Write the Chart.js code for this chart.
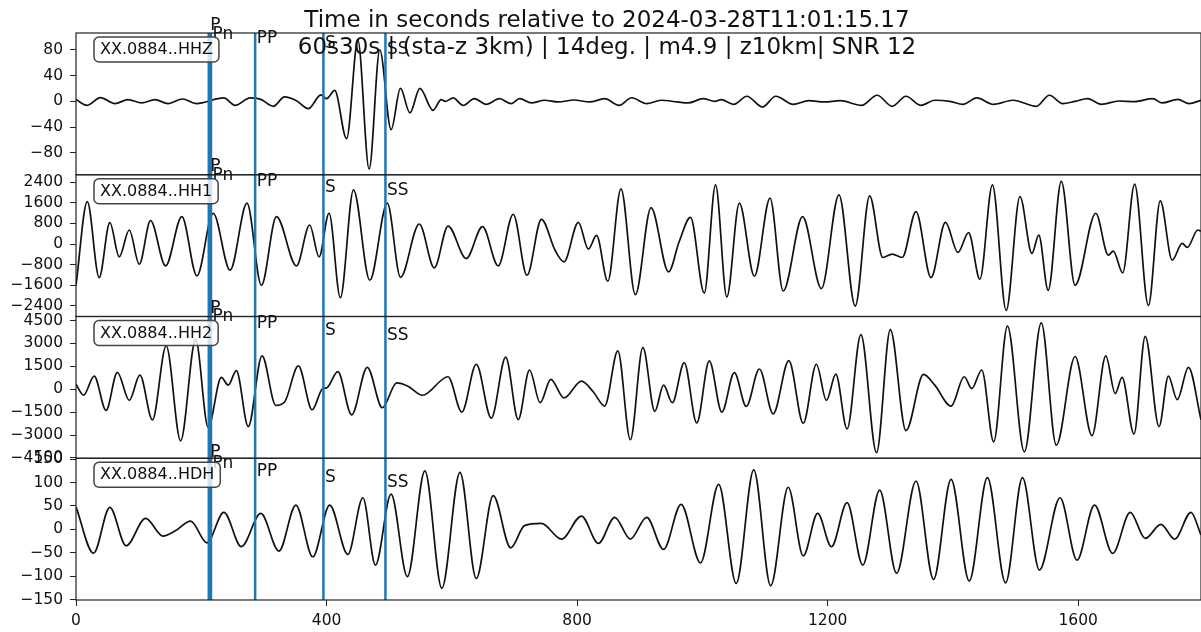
<!DOCTYPE html>
<html><head><meta charset="utf-8">
<script src="https://cdn.jsdelivr.net/npm/chart.js@4"></script>
<style>html,body{margin:0;padding:0;background:#fff;overflow:hidden}canvas{display:block}</style>
</head><body>
<canvas id="c" width="1201" height="632"></canvas>
<script>
// ---------- data ----------
const titleLine1 = 'Time in seconds relative to 2024-03-28T11:01:15.17';
const titleLine2 = '60s30s | (sta-z 3km) | 14deg. | m4.9 | z10km| SNR 12';
const stations = ['XX.0884..HHZ', 'XX.0884..HH1', 'XX.0884..HH2', 'XX.0884..HDH'];
const phaseNames = ['P', 'Pn', 'PP', 'S', 'SS'];
const phaseTimes = [212, 215.5, 286, 395, 494];
const xTicks = [0, 400, 800, 1200, 1600];

const hhzTime = [0,18,39,62,83,105,126,147,170,192,236,254,278,295,315,333,352,371,391,400,413,432,450,468,485,503,518,533,549,570,583,590,602,618,636,655,676,695,708,727,748,770,795,820,844,867,887,911,934,960,977,1001,1020,1030,1050,1071,1096,1117,1145,1170,1195,1220,1254,1279,1303,1325,1349,1371,1395,1416,1438,1465,1496,1533,1554,1575,1595,1615,1637,1665,1690,1719,1734,1759,1777,1796];
const hhzAmp  = [2.6,-6.3,5.8,-3.6,2.6,-2.6,2.6,-3.6,3.6,-3.6,5.2,-6.3,5.2,3,-7.8,6.8,1,-11.5,10,4,17,-58,95,-105,80,-44,20,-18,20,-14,2.6,0,5.2,-6.3,4,-4.7,4,-3.6,4,-2.6,1.6,-1,2,-1,4,-6.3,5.5,-3.6,1.6,-1,-2.6,4,0,2.6,-4.7,7.8,-8.9,7.8,-4.7,1,-1,1,-6.3,9.4,-7.8,7.8,-6.3,1.6,0,-4.7,5.2,-4.7,1.6,-7.8,9.4,-3.6,0,4,-4.7,0.5,-0.5,4,-2.6,3,-3.6,1.6];

const hh1Time = [0,18,37,54,69,85,101,119,143,169,193,219,246,273,296,320,352,373,388,404,422,443,469,497,518,548,572,594,623,649,674,698,720,743,765,779,802,818,831,849,870,893,918,946,963,981,1003,1021,1039,1059,1083,1108,1129,1160,1190,1218,1244,1267,1288,1303,1319,1341,1365,1388,1408,1425,1443,1463,1485,1507,1526,1537,1552,1573,1595,1628,1648,1656,1671,1690,1712,1731,1750,1766,1774,1791,1796];
const hh1Amp  = [-1600,1650,-1300,830,-495,546,-780,910,-846,1066,-1235,1197,-1014,1587,-1600,1066,-846,741,-495,1197,-2080,2106,-1404,1587,-1290,780,-920,700,-560,676,-845,1157,-1210,962,-250,-690,845,-195,338,-1443,2145,-1963,1417,-1079,100,1040,-1898,2300,-2054,1586,-1248,1781,-1820,1066,-1729,1911,-2405,1872,-520,-390,-520,1261,-1300,845,-325,442,-1365,2300,-2574,1846,-364,351,-1794,2431,-1599,1196,-429,-273,-1118,2327,-2379,1677,-624,27,-130,546,500];

const hh2Time = [0,12,29,48,66,85,102,122,144,167,191,211,232,243,256,275,297,319,333,355,377,394,400,418,440,465,489,512,530,553,594,616,639,663,686,706,724,741,758,779,807,826,844,865,885,905,924,938,952,971,991,1011,1031,1051,1070,1091,1113,1138,1161,1182,1198,1213,1231,1253,1278,1300,1325,1353,1371,1397,1418,1430,1446,1465,1487,1514,1541,1565,1595,1622,1644,1659,1670,1689,1707,1729,1744,1758,1776,1796];
const hh2Amp  = [331,-397,860,-1390,1104,-728,927,-2008,2846,-3376,3244,-2495,772,265,1213,-2449,2185,-1059,-838,1523,-1346,44,80,1147,-1677,1434,-1213,420,200,-397,817,-1500,1633,-1898,2097,-1986,1258,-883,640,-574,530,-180,-1104,2516,-3310,2736,-1456,265,-883,1743,-2207,1854,-1500,1081,-1125,1324,-1611,1876,-2229,1633,-728,993,-2604,3575,-4150,3906,-2714,973,265,-1104,817,44,1258,-3442,4126,-4105,4347,-3663,2141,-3045,2185,-287,772,-2935,3464,-2449,861,-684,1435,-2000];

const hdhTime = [0,28,54,80,111,139,158,183,209,236,264,295,324,351,378,405,434,458,478,503,529,557,584,613,639,666,694,716,743,775,807,834,860,885,911,938,966,997,1026,1054,1082,1109,1137,1161,1184,1206,1231,1256,1283,1310,1341,1369,1397,1426,1455,1484,1511,1538,1571,1598,1626,1655,1683,1707,1732,1754,1780,1796];
const hdhAmp  = [48,-51,47,-35,23.5,-14.3,-3.6,17.8,-28.7,36.4,-37,34,-46.4,52,-58.6,52,-53.5,67.6,-76.4,75.5,-101,124.8,-126,122,-105,72,-39.4,8,12.8,-20.8,28.5,-30,25.7,-20.8,25.7,-42.8,53.5,-71.5,96.3,-115.6,127,-120.7,90,-56.5,34.2,-37.2,57,-76.4,84,-94,103.4,-107,107,-110.6,110.4,-114.3,110.4,-87,67.6,-65.7,52,-51.4,36.4,-19.3,10.7,-20.8,36.4,-12];

const hhzTicks = [-80, -40, 0, 40, 80];
const hh1Ticks = [-2400, -1600, -800, 0, 800, 1600, 2400];
const hh2Ticks = [-4500, -3000, -1500, 0, 1500, 3000, 4500];
const hdhTicks = [-150, -100, -50, 0, 50, 100, 150];

// ---------- layout / style ----------
const FONT = 'DejaVu Sans';
const labelDy = [[-7,2,6,11,17],[-8,1,7,13,16],[-8,0,7,14,19],[-6,5,13,19,24]];

function pts(t, a) { return t.map((x, i) => ({x: x, y: a[i]})); }
function minus(v) { return String(v).replace('-', '\u2212'); }

function yAxis(min, max, ticks) {
  return {
    type: 'linear', position: 'left', stack: 'panels', stackWeight: 1,
    min: min, max: max,
    afterBuildTicks: s => { s.ticks = ticks.map(v => ({value: v})); },
    afterFit: s => { s.width = 76; },
    grid: {drawOnChartArea: false, drawTicks: true, tickLength: 6, color: '#222', lineWidth: 1},
    border: {display: false},
    ticks: {autoSkip: false, padding: 7, color: '#111', font: {family: FONT, size: 15.5},
      callback: v => minus(v)}
  };
}

function ds(t, a, axis) {
  return {data: pts(t, a), yAxisID: axis, borderColor: '#111', borderWidth: 1.7,
    pointRadius: 0, fill: false, cubicInterpolationMode: 'monotone'};
}

const panelIds = ['yHHZ', 'yHH1', 'yHH2', 'yHDH'];

const overlay = {
  id: 'overlay',
  afterDatasetsDraw(chart) {
    const ctx = chart.ctx, xs = chart.scales.x, area = chart.chartArea;
    const panels = panelIds.map(id => chart.scales[id]);
    ctx.save();
    // phase lines
    ctx.strokeStyle = '#1f77b4'; ctx.lineWidth = 2.5;
    phaseTimes.forEach(t => {
      const px = xs.getPixelForValue(t);
      ctx.beginPath(); ctx.moveTo(px, area.top); ctx.lineTo(px, area.bottom); ctx.stroke();
    });
    // frames
    ctx.strokeStyle = '#222'; ctx.lineWidth = 1.2;
    panels.forEach(p => { ctx.strokeRect(area.left, p.top, area.right - area.left, p.bottom - p.top); });
    // phase labels
    ctx.fillStyle = '#111'; ctx.font = '17px "' + FONT + '"';
    ctx.textAlign = 'left'; ctx.textBaseline = 'middle';
    panels.forEach((p, k) => {
      phaseNames.forEach((n, i) => {
        ctx.fillText(n, xs.getPixelForValue(phaseTimes[i]) + 1.5, p.top + labelDy[k][i]);
      });
    });
    // station boxes
    ctx.font = '16px "' + FONT + '"';
    panels.forEach((p, k) => {
      const w = ctx.measureText(stations[k]).width + 12;
      const x0 = 94, y0 = p.top + 4, h = 25;
      ctx.beginPath();
      ctx.roundRect(x0, y0, w, h, 5);
      ctx.fillStyle = 'rgba(255,255,255,0.8)'; ctx.fill();
      ctx.strokeStyle = '#444'; ctx.lineWidth = 1.5; ctx.stroke();
      ctx.fillStyle = '#111';
      ctx.fillText(stations[k], x0 + 6, y0 + h / 2 + 0.5);
    });
    // title
    ctx.textAlign = 'center'; ctx.textBaseline = 'alphabetic';
    ctx.font = '23px "' + FONT + '"';
    ctx.fillText(titleLine1, 607, 26.5);
    ctx.fillText(titleLine2, 607, 53.5);
    ctx.restore();
  }
};

new Chart(document.getElementById('c'), {
  type: 'line',
  data: {datasets: [
    ds(hhzTime, hhzAmp, 'yHHZ'),
    ds(hh1Time, hh1Amp, 'yHH1'),
    ds(hh2Time, hh2Amp, 'yHH2'),
    ds(hdhTime, hdhAmp, 'yHDH')
  ]},
  options: {
    responsive: false, devicePixelRatio: 1, animation: false,
    layout: {padding: {top: 33, left: 0, right: 0, bottom: 0}},
    plugins: {legend: {display: false}, tooltip: {enabled: false}, title: {display: false}},
    scales: {
      x: {type: 'linear', min: 0, max: 1796,
        afterBuildTicks: s => { s.ticks = xTicks.map(v => ({value: v})); },
        afterFit: s => { s.height = 32; },
        grid: {drawOnChartArea: false, drawTicks: true, tickLength: 6, color: '#222'},
        border: {display: false},
        ticks: {autoSkip: false, maxRotation: 0, padding: 6, color: '#111', font: {family: FONT, size: 15.5},
          callback: v => String(v)}
      },
      // stacked axes are laid out bottom-up, so the bottom panel comes first
      yHDH: yAxis(-151, 152, hdhTicks),
      yHH2: yAxis(-4520, 4760, hh2Ticks),
      yHH1: yAxis(-2810, 2690, hh1Ticks),
      yHHZ: yAxis(-114, 106, hhzTicks)
    }
  },
  plugins: [overlay]
});
</script>
</body></html>
